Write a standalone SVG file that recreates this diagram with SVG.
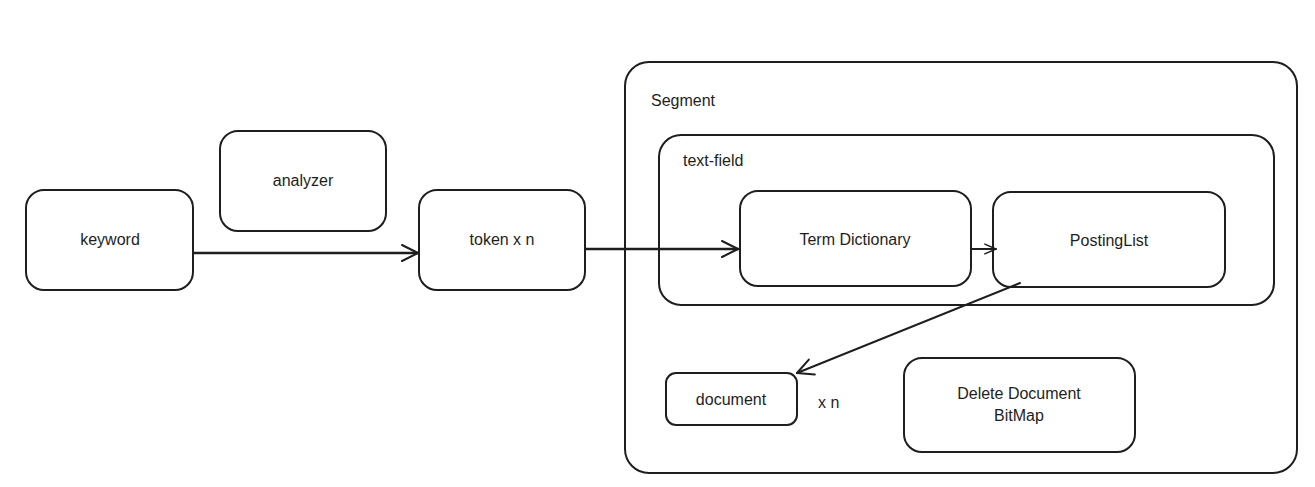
<svg xmlns="http://www.w3.org/2000/svg" width="1315" height="487" viewBox="0 0 1315 487">
<style>
.box{fill:none;stroke:#1e1e1e;stroke-width:2;stroke-linejoin:round}
.t{font-family:"Liberation Sans",Arial,sans-serif;font-size:16px;fill:#1e1e1e}
.c{text-anchor:middle}
.ln{fill:none;stroke:#1e1e1e;stroke-width:2;stroke-linecap:round}
.thick{stroke-width:2.6}
</style>
<defs>
<marker id="ah" viewBox="0 0 20 20" refX="18" refY="10" markerWidth="20" markerHeight="20" markerUnits="userSpaceOnUse" orient="auto">
<path d="M2,2 L18,10 L2,18" fill="none" stroke="#1e1e1e" stroke-width="2" stroke-linecap="round" stroke-linejoin="round"/>
</marker>
<marker id="ahs" viewBox="0 0 20 20" refX="18" refY="10" markerWidth="14" markerHeight="14" markerUnits="userSpaceOnUse" orient="auto">
<path d="M2,3 L18,10 L2,17" fill="none" stroke="#1e1e1e" stroke-width="2" stroke-linecap="round" stroke-linejoin="round"/>
</marker>
</defs>
<rect width="1315" height="487" fill="#ffffff"/>
<g id="segment">
<rect class="box" x="625" y="62" width="672" height="411" rx="24"/>
<text class="t" x="651" y="106">Segment</text>
</g>
<g id="text-field">
<rect class="box" x="659" y="135" width="615" height="170" rx="22"/>
<text class="t" x="683" y="166">text-field</text>
</g>
<g id="keyword">
<rect class="box" x="26" y="190" width="167" height="100" rx="18"/>
<text class="t c" x="110" y="245">keyword</text>
</g>
<g id="analyzer">
<rect class="box" x="220" y="131" width="166" height="100" rx="18"/>
<text class="t c" x="303" y="186">analyzer</text>
</g>
<g id="token">
<rect class="box" x="419" y="190" width="166" height="100" rx="18"/>
<text class="t c" x="502" y="245">token x n</text>
</g>
<g id="term-dictionary">
<rect class="box" x="740" y="191" width="231" height="95" rx="18"/>
<text class="t c" x="855" y="245">Term Dictionary</text>
</g>
<g id="posting-list">
<rect class="box" x="993" y="192" width="232" height="95" rx="18"/>
<text class="t c" x="1109" y="246">PostingList</text>
</g>
<g id="document">
<rect class="box" x="666" y="373" width="131" height="52" rx="10"/>
<text class="t c" x="731" y="405">document</text>
</g>
<g id="xn-label">
<text class="t" x="818" y="408">x n</text>
</g>
<g id="delete-bitmap">
<rect class="box" x="904" y="358" width="231" height="94" rx="18"/>
<text class="t c" x="1019" y="399">Delete Document</text>
<text class="t c" x="1019" y="421">BitMap</text>
</g>
<g id="connectors">
<line class="ln thick" x1="194" y1="253" x2="418" y2="253" marker-end="url(#ah)"/>
<line class="ln thick" x1="586" y1="249" x2="738" y2="249" marker-end="url(#ah)"/>
<line class="ln" x1="971" y1="249" x2="996" y2="249" stroke-width="1.5" marker-end="url(#ahs)"/>
<line class="ln" x1="1020" y1="283" x2="797" y2="373" marker-end="url(#ah)"/>
</g>
</svg>
